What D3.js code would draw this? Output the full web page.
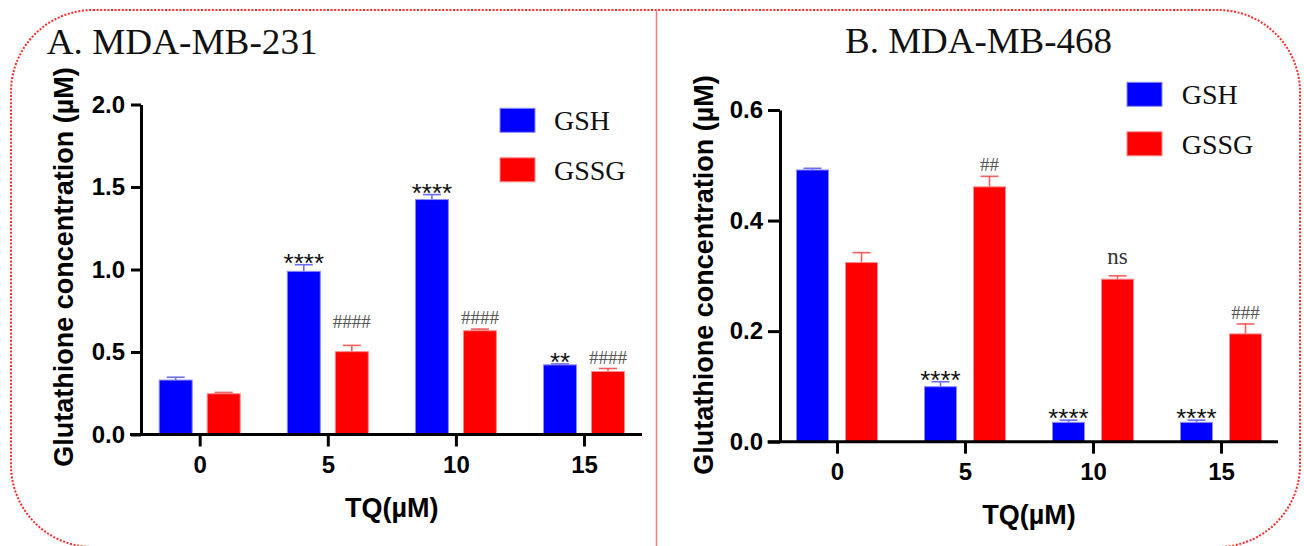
<!DOCTYPE html>
<html>
<head>
<meta charset="utf-8">
<script src="https://cdn.jsdelivr.net/npm/d3@7/dist/d3.min.js"></script>
<style>
  html, body { margin: 0; padding: 0; background: #fff; }
  svg { display: block; }
  .tick text { font-family: "Liberation Sans", Arial, sans-serif; font-weight: bold; }
</style>
</head>
<body>
<svg id="chart" width="1304" height="546"></svg>
<script>
// doses of TQ (uM) on the x axis
const doses = ["0", "5", "10", "15"];
const seriesNames = ["GSH", "GSSG"];

// A. MDA-MB-231
const gsh231 = [0.330, 0.989, 1.424, 0.422];
const gsh231Err = [0.017, 0.040, 0.030, 0.006];
const gssg231 = [0.247, 0.502, 0.629, 0.382];
const gssg231Err = [0.008, 0.038, 0.010, 0.018];
const gsh231Sig = ["", "****", "****", "**"];
const gssg231Sig = ["", "####", "####", "####"];
const yTicks231 = [0, 0.5, 1.0, 1.5, 2.0];

// B. MDA-MB-468
const gsh468 = [0.4915, 0.0995, 0.035, 0.035];
const gsh468Err = [0.003, 0.009, 0.004, 0.004];
const gssg468 = [0.324, 0.461, 0.294, 0.195];
const gssg468Err = [0.018, 0.019, 0.006, 0.018];
const gsh468Sig = ["", "****", "****", "****"];
const gssg468Sig = ["", "##", "ns", "###"];
const yTicks468 = [0, 0.2, 0.4, 0.6];

const colors = {
  fill: ["#0000ff", "#ff0000"],
  edge: ["#8a8aff", "#ff8a8a"],
  err: ["#6b6bff", "#ff5c5c"]
};

const svg = d3.select("#chart");

// outer dotted frame + middle divider
svg.append("rect")
  .attr("x", 11).attr("y", 10)
  .attr("width", 1289).attr("height", 537)
  .attr("rx", 82).attr("ry", 82)
  .attr("fill", "none")
  .attr("stroke", "#ff2a2a")
  .attr("stroke-width", 2)
  .attr("stroke-dasharray", "2,1.6");

svg.append("line")
  .attr("x1", 656.5).attr("x2", 656.5)
  .attr("y1", 10).attr("y2", 546)
  .attr("stroke", "#f08080")
  .attr("stroke-width", 1.5);

const panels = [
  {
    title: "A. MDA-MB-231", titleX: 46.7, titleY: 54, titleLen: 271,
    series: [
      { values: gsh231, errs: gsh231Err, sig: gsh231Sig },
      { values: gssg231, errs: gssg231Err, sig: gssg231Sig }
    ],
    yTicks: yTicks231, yFormat: d3.format(".1f"),
    axisX: 141, top: 104.5, bottom: 434.5,
    firstTick: 199.7, lastTick: 584, lineLeft: 130, lineRight: 642,
    yTickLen: 10, yPad: 6, barW: 33, offset: 24,
    legendX: 500, legendY: 108.3, legendTextX: 554,
    yTitleX: 73, yTitleY: 267,
    extraLift: { "1-1": 12 }
  },
  {
    title: "B. MDA-MB-468", titleX: 845, titleY: 53.3, titleLen: 267,
    series: [
      { values: gsh468, errs: gsh468Err, sig: gsh468Sig },
      { values: gssg468, errs: gssg468Err, sig: gssg468Sig }
    ],
    yTicks: yTicks468, yFormat: d3.format(".1f"),
    axisX: 780, top: 110, bottom: 441.7,
    firstTick: 837, lastTick: 1221, lineLeft: 767.6, lineRight: 1278,
    yTickLen: 12, yPad: 5, barW: 32, offset: 24.5,
    legendX: 1127, legendY: 82.3, legendTextX: 1181.7,
    yTitleX: 713, yTitleY: 275,
    extraLift: { "2-1": 7 }
  }
];

panels.forEach(function(p) {
  const g = svg.append("g");
  const yMax = d3.max(p.yTicks);

  const x = d3.scalePoint().domain(doses).range([p.firstTick, p.lastTick]);
  const y = d3.scaleLinear().domain([0, yMax]).range([p.bottom, p.top]);

  // panel title
  g.append("text")
    .attr("x", p.titleX).attr("y", p.titleY)
    .attr("textLength", p.titleLen)
    .attr("lengthAdjust", "spacingAndGlyphs")
    .style("font-family", "'Liberation Serif', 'Times New Roman', serif")
    .style("font-size", "35px")
    .attr("fill", "#111")
    .text(p.title);

  // bars, error bars, significance marks
  p.series.forEach(function(s, si) {
    const dx = si === 0 ? -p.offset : p.offset;
    const grp = g.append("g");
    doses.forEach(function(d, i) {
      const cx = x(d) + dx;
      const v = s.values[i];
      const errTop = y(v + s.errs[i]);

      grp.append("line")
        .attr("x1", cx).attr("x2", cx)
        .attr("y1", y(v)).attr("y2", errTop)
        .attr("stroke", colors.err[si]).attr("stroke-width", 1.6);
      grp.append("line")
        .attr("x1", cx - 9).attr("x2", cx + 9)
        .attr("y1", errTop).attr("y2", errTop)
        .attr("stroke", colors.err[si]).attr("stroke-width", 1.6);

      grp.append("rect")
        .attr("x", cx - p.barW / 2)
        .attr("y", y(v))
        .attr("width", p.barW)
        .attr("height", y(0) - y(v))
        .attr("fill", colors.fill[si])
        .attr("stroke", colors.edge[si])
        .attr("stroke-width", 1);

      const label = s.sig[i];
      if (!label) return;
      const lift = p.extraLift[si + "-" + i] || 0;
      const t = grp.append("text")
        .attr("x", cx)
        .attr("text-anchor", "middle")
        .text(label);
      if (label.charAt(0) === "*") {
        // asterisks sit high in the em box
        t.attr("y", errTop + 7 - lift)
          .style("font-family", "'Liberation Sans', Arial, sans-serif")
          .style("font-size", "26px")
          .attr("fill", "#111");
      } else if (label.charAt(0) === "#") {
        t.attr("y", errTop - 5 - lift)
          .style("font-family", "'Liberation Serif', 'Times New Roman', serif")
          .style("font-size", "19px")
          .attr("fill", "#555");
      } else {
        t.attr("y", errTop - 12 - lift)
          .style("font-family", "'Liberation Serif', 'Times New Roman', serif")
          .style("font-size", "23px")
          .attr("fill", "#333");
      }
    });
  });

  // y axis
  const yAxis = g.append("g")
    .attr("transform", "translate(" + p.axisX + ",0)")
    .call(d3.axisLeft(y).tickValues(p.yTicks).tickFormat(p.yFormat)
      .tickSize(p.yTickLen).tickSizeOuter(0).tickPadding(p.yPad));
  yAxis.select(".domain").attr("stroke", "#000").attr("stroke-width", 3);
  yAxis.selectAll(".tick line").attr("stroke", "#000").attr("stroke-width", 3);
  yAxis.selectAll(".tick text").style("font-size", "24px").attr("fill", "#000");

  // x axis (line drawn wider than the tick range)
  const xAxis = g.append("g")
    .attr("transform", "translate(0," + p.bottom + ")")
    .call(d3.axisBottom(x).tickSize(12).tickSizeOuter(0).tickPadding(9));
  xAxis.select(".domain").remove();
  xAxis.selectAll(".tick line").attr("stroke", "#000").attr("stroke-width", 3);
  xAxis.selectAll(".tick text").style("font-size", "24px").attr("fill", "#000");
  g.append("line")
    .attr("x1", p.lineLeft).attr("x2", p.lineRight)
    .attr("y1", p.bottom).attr("y2", p.bottom)
    .attr("stroke", "#000").attr("stroke-width", 3);

  // axis titles
  g.append("text")
    .attr("x", (p.firstTick + p.lastTick) / 2)
    .attr("y", p.bottom + 82)
    .attr("text-anchor", "middle")
    .style("font-family", "'Liberation Sans', Arial, sans-serif")
    .style("font-weight", "bold")
    .style("font-size", "27px")
    .text("TQ(µM)");

  g.append("text")
    .attr("transform", "translate(" + p.yTitleX + "," + p.yTitleY + ") rotate(-90)")
    .attr("text-anchor", "middle")
    .style("font-family", "'Liberation Sans', Arial, sans-serif")
    .style("font-weight", "bold")
    .style("font-size", "27px")
    .text("Glutathione concentration (µM)");

  // legend
  seriesNames.forEach(function(name, si) {
    const ly = p.legendY + si * 49.5;
    g.append("rect")
      .attr("x", p.legendX).attr("y", ly)
      .attr("width", 35).attr("height", 24)
      .attr("fill", colors.fill[si])
      .attr("stroke", colors.edge[si]).attr("stroke-width", 1);
    g.append("text")
      .attr("x", p.legendTextX).attr("y", ly + 22)
      .style("font-family", "'Liberation Serif', 'Times New Roman', serif")
      .style("font-size", "28px")
      .attr("fill", "#111")
      .text(name);
  });
});
</script>
</body>
</html>
